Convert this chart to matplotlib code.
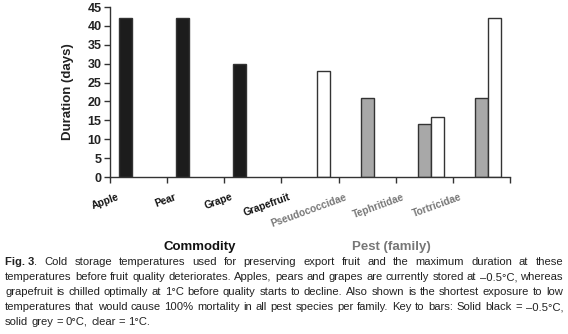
import numpy as np
import matplotlib
matplotlib.use("Agg")
import matplotlib.pyplot as plt
import matplotlib.transforms as mtrans

plt.rcParams['font.family'] = ['Liberation Sans', 'DejaVu Sans']

# data (days)
categories = ['Apple', 'Pear', 'Grape', 'Grapefruit',
              'Pseudococcidae', 'Tephritidae', 'Tortricidae']
is_pest = [False, False, False, False, True, True, True]
black_vals = [42, 42, 30, 0, 0, 0, 0]     # -0.5 C
grey_vals = [0, 0, 0, 0, 21, 14, 21]      # 0 C
clear_vals = [0, 0, 0, 28, 0, 16, 42]     # 1 C

caption_lines = [
    "Fig. 3. Cold storage temperatures used for preserving export fruit and the maximum duration at these",
    "temperatures before fruit quality deteriorates. Apples, pears and grapes are currently stored at \u20130.5\u00b0C, whereas",
    "grapefruit is chilled optimally at 1\u00b0C before quality starts to decline. Also shown is the shortest exposure to low",
    "temperatures that would cause 100% mortality in all pest species per family. Key to bars: Solid black = \u20130.5\u00b0C,",
    "solid grey = 0\u00b0C, clear = 1\u00b0C.",
]

fig = plt.figure(figsize=(5.68, 3.34), dpi=100)
ax = fig.add_axes([110/568, 1-177/334, 400/568, 170/334])

x = np.arange(len(categories))
w = 0.23
edge = '#333333'
ax.bar(x - w, black_vals, w, color='#1c1c1c', edgecolor=edge, linewidth=1)
ax.bar(x, grey_vals, w, color='#a8a8a8', edgecolor=edge, linewidth=1)
ax.bar(x + w, clear_vals, w, color='white', edgecolor=edge, linewidth=1)
# hide zero-height bars' edges
for p in ax.patches:
    if p.get_height() == 0:
        p.set_visible(False)

ax.set_xlim(-0.5, len(categories) - 0.5)
ax.set_ylim(0, 45)
ax.set_yticks(np.arange(0, 46, 5))
ax.set_xticks(np.arange(-0.5, len(categories), 1))
ax.set_xticklabels([])
for s in ['top', 'right']:
    ax.spines[s].set_visible(False)
for s in ['left', 'bottom']:
    ax.spines[s].set_color('#333333')
    ax.spines[s].set_linewidth(1)
ax.tick_params(axis='both', direction='out', length=4, color='#333333', width=1)
ax.tick_params(axis='y', labelsize=9, pad=2)
for t in ax.get_yticklabels():
    t.set_fontweight('bold')
    t.set_color('#222222')
ax.set_ylabel('Duration (days)', fontsize=9.5, fontweight='bold', color='#222222', labelpad=10)

# rotated category labels
off = mtrans.offset_copy(ax.get_xaxis_transform(), fig=fig, x=-22, y=-15, units='dots')
for i, lab in enumerate(categories):
    ax.text(i, 0, lab, transform=off, rotation=20, rotation_mode='anchor',
            ha='right', va='top', fontsize=7.3, fontweight='bold',
            color='#777777' if is_pest[i] else '#111111')

fig.text(200/568, 1-247/334, 'Commodity', ha='center', va='center',
         fontsize=9.5, fontweight='bold', color='#111111')
fig.text(391/568, 1-247/334, 'Pest (family)', ha='center', va='center',
         fontsize=9.5, fontweight='bold', color='#777777')

# justified caption
renderer = fig.canvas.get_renderer()
left_px, right_px = 5, 563
cap_size = 8.1
y0 = 262
for li, line in enumerate(caption_lines):
    ypx = y0 + 15 * li
    words = line.split(' ')
    if li == 0:
        pieces = [[('Fig. 3', 'bold'), ('.', 'normal')]] + [[(wd, 'normal')] for wd in words[2:]]
    else:
        pieces = [[(wd, 'normal')] for wd in words]
    widths = []
    for pc in pieces:
        wsum = 0
        for txt, wt in pc:
            t = fig.text(0, 0, txt, fontsize=cap_size, fontweight=wt)
            wsum += t.get_window_extent(renderer).width
            t.remove()
        widths.append(wsum)
    t = fig.text(0, 0, 'a b', fontsize=cap_size)
    t2 = fig.text(0, 0, 'ab', fontsize=cap_size)
    space = t.get_window_extent(renderer).width - t2.get_window_extent(renderer).width
    t.remove(); t2.remove()
    if li < len(caption_lines) - 1:
        gap = (right_px - left_px - sum(widths)) / (len(pieces) - 1)
    else:
        gap = space
    xp = left_px
    for pc, wd in zip(pieces, widths):
        xx = xp
        for txt, wt in pc:
            t = fig.text(xx/568, 1-ypx/334, txt, fontsize=cap_size, fontweight=wt,
                         va='center', ha='left', color='#222222')
            xx += t.get_window_extent(renderer).width
        xp += wd + gap

fig.savefig('out.png', dpi=100)
